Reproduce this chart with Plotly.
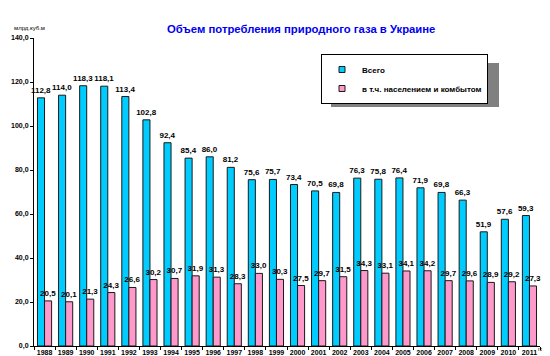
import plotly.graph_objects as go

years = ["1988", "1989", "1990", "1991", "1992", "1993", "1994", "1995", "1996", "1997", "1998", "1999",
         "2000", "2001", "2002", "2003", "2004", "2005", "2006", "2007", "2008", "2009", "2010", "2011"]
total = [112.8, 114.0, 118.3, 118.1, 113.4, 102.8, 92.4, 85.4, 86.0, 81.2, 75.6, 75.7,
         73.4, 70.5, 69.8, 76.3, 75.8, 76.4, 71.9, 69.8, 66.3, 51.9, 57.6, 59.3]
population = [20.5, 20.1, 21.3, 24.3, 26.6, 30.2, 30.7, 31.9, 31.3, 28.3, 33.0, 30.3,
              27.5, 29.7, 31.5, 34.3, 33.1, 34.1, 34.2, 29.7, 29.6, 28.9, 29.2, 27.3]
y_ticks = [0, 20, 40, 60, 80, 100, 120, 140]
series_names = ["Всего", "в т.ч. населением и комбытом"]
colors = ["#00CCFF", "#FF99CC"]

FONT = "Liberation Sans, Arial, sans-serif"
OUTLINE = "#1a1a1a"

fig = go.Figure()
for name, vals, col in zip(series_names, [total, population], colors):
    fig.add_trace(go.Bar(
        x=years, y=vals, name=name, showlegend=False,
        marker=dict(color=col, line=dict(color=OUTLINE, width=1)),
        texttemplate="%{y:.1f}", textposition="outside", constraintext="none",
        textfont=dict(size=8, color="#000000", family=FONT, weight="bold"),
        cliponaxis=False,
    ))
# legend entries with small square swatches
for name, col in zip(series_names, colors):
    fig.add_trace(go.Scatter(
        x=[None], y=[None], mode="markers", name=name,
        marker=dict(symbol="square", size=6, color=col, line=dict(color=OUTLINE, width=1)),
    ))

pl, pr, pt, pb = 26, 550 - 18, 30, 356 - 18

def px_x(v):
    return (v - pl) / (pr - pl)

def px_y(v):
    return (pb - v) / (pb - pt)

fig.update_layout(
    width=550, height=356,
    margin=dict(l=pl, r=550 - pr, t=pt, b=356 - pb, autoexpand=False),
    paper_bgcolor="white", plot_bgcolor="white",
    separators=", ",
    barmode="group", bargap=0.33, bargroupgap=0,
    font=dict(family=FONT, size=8, color="#000000"),
    showlegend=True,
    legend=dict(
        x=px_x(313), y=px_y(46), xanchor="left", yanchor="top",
        bgcolor="white", bordercolor="#000000", borderwidth=1,
        font=dict(size=8, family=FONT, color="#000000", weight="bold"),
        itemwidth=30, tracegroupgap=0,
    ),
    xaxis=dict(
        type="category", showline=True, linecolor="#000000", linewidth=1,
        ticks="outside", tickson="boundaries", ticklen=3, tickcolor="#000000",
        tickangle=0, automargin=False,
        tickfont=dict(size=7, family=FONT, color="#000000", weight="bold"),
        showgrid=False, zeroline=False,
    ),
    yaxis=dict(
        range=[0, 140], tickvals=y_ticks, tickformat=".1f",
        showline=True, linecolor="#000000", linewidth=1,
        ticks="outside", ticklen=3, tickcolor="#000000", automargin=False,
        tickfont=dict(size=7, family=FONT, color="#000000", weight="bold"),
        showgrid=False, zeroline=False,
    ),
    shapes=[
        # legend drop shadow
        dict(type="rect", xref="paper", yref="paper", layer="below",
             x0=px_x(323), x1=px_x(491), y0=px_y(55), y1=px_y(99),
             fillcolor="#808080", line=dict(width=0)),
    ],
    annotations=[
        dict(text="<b>Объем потребления природного газа в Украине</b>", x=px_x(293), y=px_y(13),
             xref="paper", yref="paper", showarrow=False,
             font=dict(size=11.3, color="#0000EE", family=FONT)),
        dict(text="млрд.куб.м", x=px_x(4), y=px_y(15), xanchor="left",
             xref="paper", yref="paper", showarrow=False,
             font=dict(size=6, color="#000000", family=FONT)),
        dict(text="годы", x=px_x(543), y=px_y(346), xanchor="right",
             xref="paper", yref="paper", showarrow=False,
             font=dict(size=5, color="#000000", family=FONT)),
    ],
)

fig.write_html("out.html")
